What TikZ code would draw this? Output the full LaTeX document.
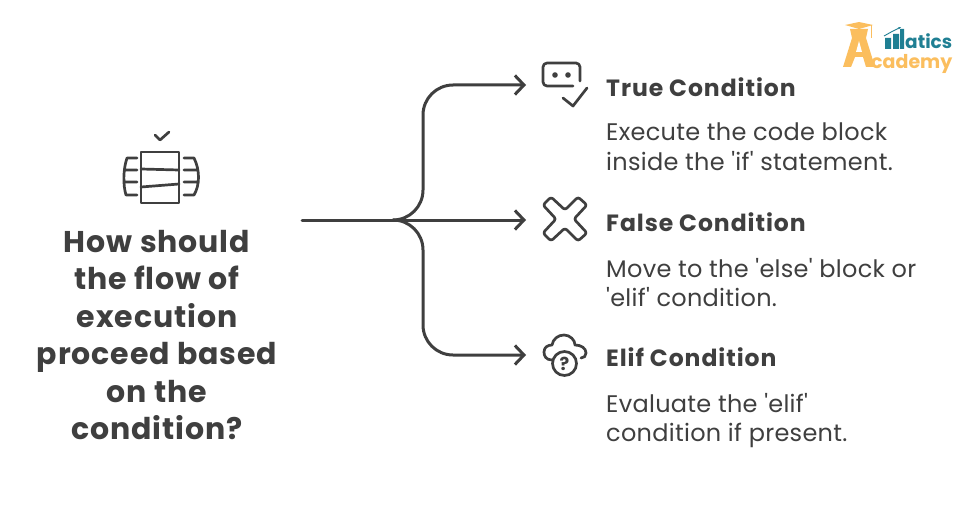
\documentclass[tikz,border=0pt]{standalone}
\usepackage{fontspec}
\setmainfont{Poppins}[Ligatures=TeXOff]
\usetikzlibrary{arrows.meta}
\definecolor{ink}{HTML}{3F3F3F}
\definecolor{logoorange}{HTML}{FBBE5E}
\definecolor{logoteal}{HTML}{1F7F93}
\tikzset{
  flow/.style={draw=ink,line width=3pt,line cap=round,line join=round},
  arrowline/.style={flow,-{Straight Barb[length=9pt,width=19pt,line width=3pt]},rounded corners=30pt},
  glyph/.style={draw=ink,line width=2.7pt,line cap=round,line join=round},
  question/.style={font=\fontsize{30}{37.4}\selectfont\bfseries\addfontfeatures{LetterSpace=3},text=ink,align=center,inner sep=0pt},
  headline/.style={font=\fontsize{23.5}{29}\selectfont\bfseries\addfontfeatures{LetterSpace=4},text=ink,anchor=base west,inner sep=0pt},
  bodytext/.style={font=\fontsize{24}{29.5}\selectfont\addfontfeatures{LetterSpace=1.2},text=ink,anchor=north west,align=left,inner sep=0pt},
}
\begin{document}
\begin{tikzpicture}[x=1pt,y=-1pt]
\useasboundingbox (0,0) rectangle (965,508);
\fill[white] (0,0) rectangle (965,508);
% left icon
\draw[glyph] (155,135) -- (160,140) -- (169,132);
\draw[glyph] (141,152) rectangle (179,203);
\draw[glyph] (141,169) -- (179,170) (141,187) -- (179,184);
\draw[glyph] (137,158) -- (127,158) .. controls (123,170) and (123,185) .. (126,195) -- (137,195) (125,170) -- (137,170) (125,182) -- (137,182);
\draw[glyph] (184,158) -- (194,158) .. controls (200,170) and (200,185) .. (194,195) -- (184,195) (184,170) -- (197,170) (184,182) -- (197,182);
\node[question] (q) at (157,335) {How should\\the flow of\\execution\\proceed based\\on the\\condition?};
% connector
\coordinate (src) at (302,220);
\coordinate (hub) at (393,220);
\coordinate (t1) at (526,85);
\coordinate (t2) at (526,220);
\coordinate (t3) at (526,355);
\draw[flow] (src) -- (hub);
\draw[arrowline] (hub) -- (423,220) -- (423,85) -- (t1);
\draw[arrowline] (hub) -- (t2);
\draw[arrowline] (hub) -- (423,220) -- (423,355) -- (t3);
% true icon
\draw[glyph,rounded corners=4pt] (580,81) -- (580,63) -- (543,63) -- (543,86) -- (573,86);
\fill[ink] (555,75) circle (2.8) (568,75) circle (2.8);
\draw[glyph] (563,98) -- (573,106) -- (587,88);
% cross icon
\draw[glyph,rounded corners=2.5pt] (565,210) -- (551,197) -- (543,205) -- (556,219) -- (543,233) -- (551,241) -- (565,228) -- (578,241) -- (587,233) -- (574,219) -- (587,205) -- (578,197) -- cycle;
% cloud icon
\draw[glyph] (552,360) .. controls (546,360) and (544,356) .. (544,352) .. controls (544,347) and (548,345) .. (552,345) .. controls (553,339) and (558,335) .. (564,335) .. controls (570,335) and (575,340) .. (575,345) .. controls (581,345) and (586,348) .. (586,353) .. controls (586,356) and (584,358) .. (581,358);
\draw[glyph] (564.5,363.5) circle (12);
\node[text=ink,font=\fontsize{18}{18}\selectfont\bfseries,inner sep=0pt] (qm) at (564.5,363.5) {?};
% texts
\node[headline] (h1) at (606,96) {True Condition};
\node[headline] (h2) at (606,231) {False Condition};
\node[headline] (h3) at (606,366) {Elif Condition};
\node[bodytext] (b1) at (606,123) {Execute the code block\\inside the 'if' statement.};
\node[bodytext] (b2) at (606,258) {Move to the 'else' block or\\'elif' condition.};
\node[bodytext] (b3) at (606,393) {Evaluate the 'elif'\\condition if present.};
% logo
\fill[logoorange] (845,25) -- (859,22) -- (873,25) -- (859,29) -- cycle;
\fill[logoorange] (850,29) -- (868,29) -- (866,38) -- (875,67) -- (866,67) -- (863,57) -- (855,57) -- (851,67) -- (843,67) -- (852,38) -- cycle;
\draw[logoorange,line width=0.9pt] (871,25) -- (871,38);
\fill[white] (856,52) -- (862,52) -- (859,41) -- cycle;
\fill[logoteal] (885,38) rectangle (891,49) (893,34) rectangle (899,49) (900,29) rectangle (904,49);
\draw[logoteal,line width=0.9pt,-{Stealth[length=3pt]}] (884,36) -- (893,31) -- (901,27);
\node[font=\fontsize{18.5}{19}\selectfont\bfseries,text=logoteal,anchor=base west,inner sep=0] (lt) at (905,49) {atics};
\node[font=\fontsize{19}{19}\selectfont\bfseries,text=logoorange,anchor=base west,inner sep=0] (lo) at (871,69) {cademy};
\end{tikzpicture}
\end{document}
